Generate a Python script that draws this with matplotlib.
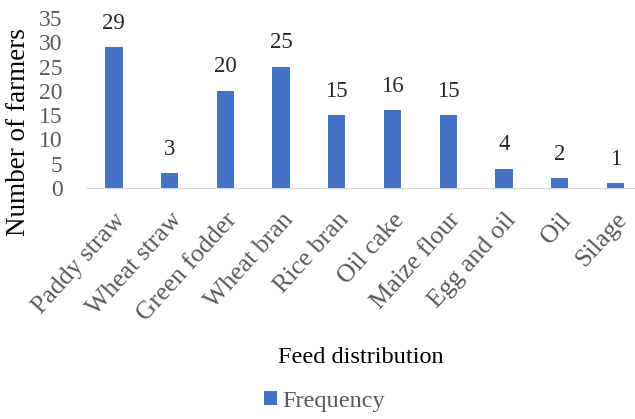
import matplotlib.pyplot as plt
import numpy as np

plt.rcParams['font.family'] = ['Liberation Serif', 'DejaVu Serif']

feeds = ['Paddy straw', 'Wheat straw', 'Green fodder', 'Wheat bran', 'Rice bran',
         'Oil cake', 'Maize flour', 'Egg and oil', 'Oil', 'Silage']
frequency = [29, 3, 20, 25, 15, 16, 15, 4, 2, 1]

bar_color = '#4472C4'
grey = '#595959'

fig = plt.figure(figsize=(6.35, 4.19), dpi=100)
ax = fig.add_axes([86 / 635, 1 - 188 / 419, 549 / 635, 170 / 419])

x = np.arange(len(feeds))
bars = ax.bar(x, frequency, width=0.31, color=bar_color, label='Frequency')
for xi, v in zip(x, frequency):
    ax.text(xi, v + 2.8, str(v), ha='center', va='bottom', fontsize=16.5, color='#262626')

ax.set_ylim(0, 35)
ax.set_xlim(-0.5, 9.35)
ax.set_yticks(range(0, 36, 5))
ax.set_xticks(x)
ax.set_xticklabels(feeds, rotation=48, ha='right', rotation_mode='anchor', fontsize=18.5, color=grey)
ax.tick_params(axis='y', labelsize=17, labelcolor=grey, length=0, pad=17)
ax.tick_params(axis='x', length=0, pad=15)

for s in ['top', 'right', 'left']:
    ax.spines[s].set_visible(False)
ax.spines['bottom'].set_color('#D9D9D9')

fig.text(19 / 635, 1 - 132 / 419, 'Number of farmers', rotation=90, ha='center', va='center', fontsize=19.5)
fig.text(361 / 635, 1 - 357 / 419, 'Feed distribution', ha='center', va='center', fontsize=17.5)

leg = fig.legend(handles=[bars], labels=['Frequency'], loc='center', bbox_to_anchor=(324 / 635, 1 - 401 / 419),
                 frameon=False, fontsize=17.5, handlelength=0.55, handleheight=0.55, handletextpad=0.2)
for t in leg.get_texts():
    t.set_color(grey)

fig.savefig('out.png', dpi=100)
